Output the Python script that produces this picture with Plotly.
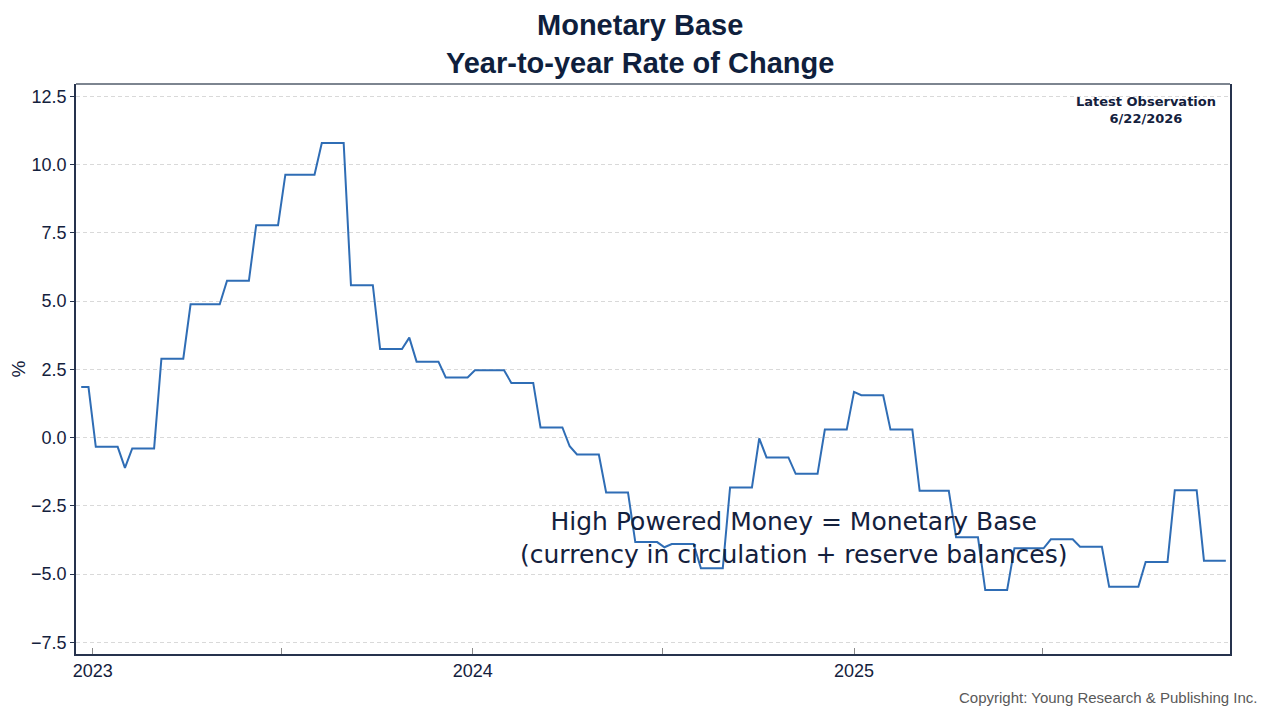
import plotly.graph_objects as go
import pandas as pd

# Weekly observations, monetary base year-to-year % change
start_date = "2022-12-21"
yoy_pct = [
    1.85, 1.85, -0.34, -0.34, -0.34, -0.34, -1.11, -0.40, -0.40, -0.40,
    -0.40, 2.89, 2.89, 2.89, 2.89, 4.88, 4.88, 4.88, 4.88, 4.88,
    5.74, 5.74, 5.74, 5.74, 7.78, 7.78, 7.78, 7.78, 9.63, 9.63,
    9.63, 9.63, 9.63, 10.79, 10.79, 10.79, 10.79, 5.58, 5.58, 5.58,
    5.58, 3.24, 3.24, 3.24, 3.24, 3.66, 2.78, 2.78, 2.78, 2.78,
    2.20, 2.20, 2.20, 2.20, 2.46, 2.46, 2.46, 2.46, 2.46, 2.00,
    2.00, 2.00, 2.00, 0.37, 0.37, 0.37, 0.37, -0.32, -0.62, -0.62,
    -0.62, -0.62, -2.01, -2.01, -2.01, -2.01, -3.83, -3.83, -3.83, -3.83,
    -4.02, -3.90, -3.90, -3.90, -3.90, -4.79, -4.79, -4.79, -4.79, -1.83,
    -1.83, -1.83, -1.83, -0.03, -0.73, -0.73, -0.73, -0.73, -1.33, -1.33,
    -1.33, -1.33, 0.29, 0.29, 0.29, 0.29, 1.67, 1.55, 1.55, 1.55,
    1.55, 0.29, 0.29, 0.29, 0.29, -1.95, -1.95, -1.95, -1.95, -1.95,
    -3.65, -3.65, -3.65, -3.65, -5.59, -5.59, -5.59, -5.59, -4.06, -4.06,
    -4.06, -4.06, -4.06, -3.73, -3.73, -3.73, -3.73, -4.00, -4.00, -4.00,
    -4.00, -5.47, -5.47, -5.47, -5.47, -5.47, -4.56, -4.56, -4.56, -4.56,
    -1.93, -1.93, -1.93, -1.93, -4.51, -4.51, -4.51, -4.51,
]
y_ticks = [-7.5, -5.0, -2.5, 0.0, 2.5, 5.0, 7.5, 10.0, 12.5]
year_ticks = ["2023-01-01", "2024-01-01", "2025-01-01"]
year_labels = ["2023", "2024", "2025"]

dates = pd.date_range(start_date, periods=len(yoy_pct), freq="7D")

navy = "#14213d"
axis_col = "#26334d"

fig = go.Figure()

fig.add_trace(go.Scatter(
    x=dates,
    y=yoy_pct,
    mode="lines",
    line=dict(color="#2f6db5", width=2),
    showlegend=False,
    hoverinfo="x+y",
))

# page body adds an 8px offset, so the figure is sized to 1272x712
fig.update_layout(
    width=1272,
    height=712,
    paper_bgcolor="white",
    plot_bgcolor="white",
    margin=dict(l=68, r=50, t=76, b=66),
    font=dict(family="Liberation Sans, Arial", color=navy),
)

fig.update_xaxes(
    range=["2022-12-16", "2025-12-28"],
    tickvals=year_ticks,
    ticktext=year_labels,
    ticks="",
    tickfont=dict(size=18, color=navy),
    showgrid=False,
    showline=True,
    linecolor=axis_col,
    linewidth=1.5,
    mirror=False,
    zeroline=False,
    automargin=False,
    minor=dict(ticks="inside", dtick="M6", tick0="2023-01-01",
               ticklen=6, tickcolor="#8a8a8a", showgrid=False),
)

fig.update_yaxes(
    range=[-7.93, 12.95],
    tickvals=y_ticks,
    tickformat=".1f",
    ticks="outside",
    ticklen=4,
    tickcolor=axis_col,
    tickfont=dict(size=18, color=navy),
    title=dict(text="%", font=dict(size=19, color=navy), standoff=8),
    showgrid=True,
    gridcolor="#d9d9d9",
    griddash="4px,3px",
    gridwidth=1,
    showline=True,
    linecolor=axis_col,
    linewidth=1.5,
    mirror=True,
    zeroline=False,
    automargin=False,
)

# grey top border of the plot frame
fig.add_shape(type="line", xref="paper", yref="paper",
              x0=0, x1=1, y0=1, y1=1,
              line=dict(color="#7d8590", width=2))

# chart title
fig.add_annotation(
    x=0.4887, y=1.071, xref="paper", yref="paper",
    xanchor="center", yanchor="middle",
    text="<b>Monetary Base<br>Year-to-year Rate of Change</b>",
    showarrow=False,
    align="center",
    font=dict(family="Liberation Sans, Arial", size=29, color="#0f1f3d"),
)

# latest observation label (top right inside plot)
fig.add_annotation(
    x=0.9268, y=0.986, xref="paper", yref="paper",
    xanchor="center", yanchor="top",
    text="<b>Latest Observation<br>6/22/2026</b>",
    showarrow=False,
    align="center",
    font=dict(family="DejaVu Sans, Verdana", size=13, color=navy),
)

# definition note
fig.add_annotation(
    x=0.6226, y=0.204, xref="paper", yref="paper",
    xanchor="center", yanchor="middle",
    text="High Powered Money = Monetary Base<br>(currency in circulation + reserve balances)",
    showarrow=False,
    align="center",
    font=dict(family="DejaVu Sans, Verdana", size=25, color=navy),
)

# copyright footer
fig.add_annotation(
    x=1.026, y=-0.077, xref="paper", yref="paper",
    xanchor="right", yanchor="middle",
    text="Copyright: Young Research & Publishing Inc.",
    showarrow=False,
    font=dict(family="Liberation Sans, Arial", size=15, color="#595959"),
)

fig.write_html("out.html")
